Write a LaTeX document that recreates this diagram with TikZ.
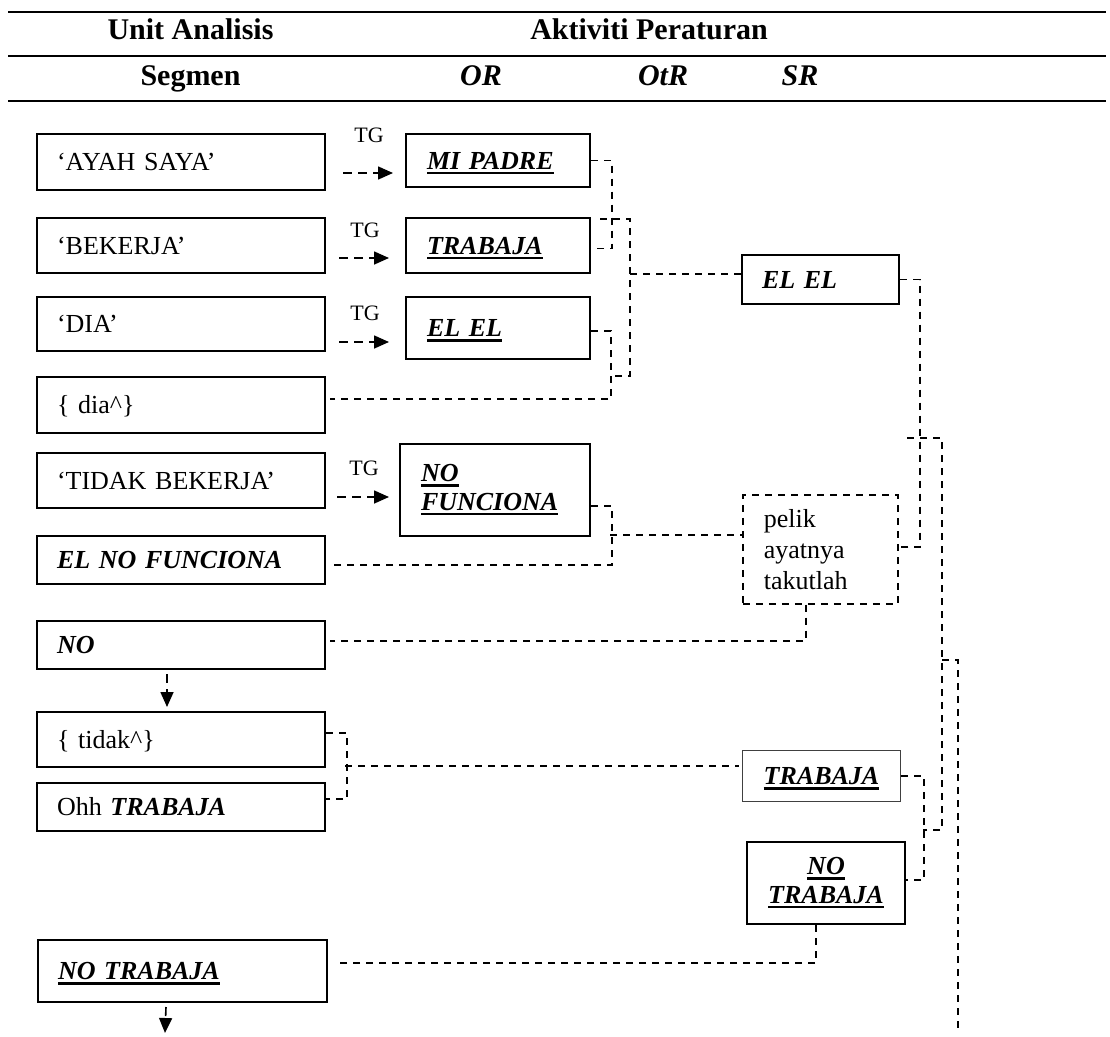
\documentclass[tikz,border=0pt]{standalone}
\usepackage{fontspec}
\setmainfont{Liberation Serif}
\usetikzlibrary{calc,arrows.meta}

\newcommand\bi[1]{\textbf{\textit{#1}}}
\newcommand\thickul[1]{\leavevmode\setbox0\hbox{#1}\rlap{\rule[-5pt]{\wd0}{2.4pt}}\box0}
\newcommand\bodysize{\fontsize{26}{31}\selectfont}
\newcommand\tightsize{\fontsize{26}{28.5}\selectfont}

\tikzset{
  box/.style={draw, line width=2pt, anchor=north west, inner xsep=20pt,
    inner ysep=0pt, align=left, font=\bodysize},
  oneline/.style={box, text height=17pt, text depth=0pt},
  link/.style={line width=1.6pt, dash pattern=on 7pt off 6pt},
  tgarrow/.style={line width=1.6pt, dash pattern=on 9pt off 6pt,
    -{Triangle[length=15pt,width=13pt]}},
  rulebar/.style={line width=2.7pt},
  headtext/.style={anchor=base, font=\fontsize{30}{36}\selectfont\bfseries},
  headital/.style={anchor=base, font=\fontsize{30}{36}\selectfont\bfseries\itshape},
  tglabel/.style={anchor=base, font=\fontsize{22}{26}\selectfont},
}

\begin{document}
\begin{tikzpicture}[x=1pt,y=-1pt]
\useasboundingbox (0,0) rectangle (1110,1036);

% table header
\draw[rulebar] (8,12) -- (1106,12);
\draw[rulebar] (8,56) -- (1106,56);
\draw[rulebar] (8,101) -- (1106,101);
\node[headtext] (h1) at (190.5,39) {Unit Analisis};
\node[headtext] (h2) at (649,39) {Aktiviti Peraturan};
\node[headtext] (h3) at (190.5,85) {Segmen};
\node[headital] (h4) at (481,85) {OR};
\node[headital] (h5) at (663,85) {OtR};
\node[headital] (h6) at (800,85) {SR};

% segment column
\node[oneline, text width=248pt, minimum height=56pt] (a1) at (36,133) {‘AYAH SAYA’};
\node[oneline, text width=248pt, minimum height=55pt] (a2) at (36,217) {‘BEKERJA’};
\node[oneline, text width=248pt, minimum height=54pt] (a3) at (36,296) {‘DIA’};
\node[oneline, text width=248pt, minimum height=56pt] (a4) at (36,376) {\{ dia\textasciicircum\}};
\node[oneline, text width=248pt, minimum height=55pt] (a5) at (36,452) {‘TIDAK BEKERJA’};
\node[oneline, text width=248pt, minimum height=48pt] (a6) at (36,535) {\bi{EL NO FUNCIONA}};
\node[oneline, text width=248pt, minimum height=48pt] (a7) at (36,620) {\bi{NO}};
\node[oneline, text width=248pt, minimum height=55pt] (a8) at (36,711) {\{ tidak\textasciicircum\}};
\node[oneline, text width=248pt, minimum height=48pt] (a9) at (36,782) {Ohh \bi{TRABAJA}};
\node[oneline, text width=249pt, minimum height=62pt] (a10) at (37,939) {\thickul{\bi{NO TRABAJA}}};

% OR column
\node[oneline, text width=142pt, inner xsep=21pt, minimum height=53pt] (b1) at (405,133) {\thickul{\bi{MI PADRE}}};
\node[oneline, text width=142pt, inner xsep=21pt, minimum height=55pt] (b2) at (405,217) {\thickul{\bi{TRABAJA}}};
\node[oneline, text width=142pt, inner xsep=21pt, minimum height=62pt] (b3) at (405,296) {\thickul{\bi{EL EL}}};
\node[box, text width=148pt, inner xsep=21pt, minimum height=92pt, font=\tightsize] (b4) at (399,443)
  {\thickul{\bi{NO}}\\\thickul{\bi{FUNCIONA}}};

% OtR column
\node[oneline, text width=117pt, minimum height=49pt] (c1) at (741,254) {\bi{EL EL}};
\node[box, line width=1.6pt, dash pattern=on 7pt off 6pt, text width=113pt, inner xsep=21pt,
  minimum height=109pt] (c2) at (742,494) {pelik\\ayatnya\\takutlah};

% SR column
\node[oneline, line width=1pt, draw=black!75, align=center, text width=118pt, minimum height=51pt]
  (d1) at (742,750) {\thickul{\bi{TRABAJA}}};
\node[box, align=center, text width=118pt, minimum height=82pt, font=\tightsize] (d2) at (746,841)
  {\thickul{\bi{NO}}\\\thickul{\bi{TRABAJA}}};

% TG translations
\node[tglabel] (t1) at (369,142) {TG};
\node[tglabel] (t2) at (365,237) {TG};
\node[tglabel] (t3) at (365,320) {TG};
\node[tglabel] (t5) at (364,475) {TG};
\draw[tgarrow] ($(a1.east)+(17,11)$) -- ($(b1.west)+(-12,12.5)$);
\draw[tgarrow] ($(a2.east)+(13,12.5)$) -- ($(b2.west)+(-16,12.5)$);
\draw[tgarrow] ($(a3.east)+(13,18)$) -- ($(b3.west)+(-16,14)$);
\draw[tgarrow] ($(a5.east)+(11,16.5)$) -- ($(b4.west)+(-10,7)$);

% downward flow in the segment column
\draw[tgarrow] ($(a7.south)+(-14,4)$) -- ($(a8.north)+(-14,-4)$);
\coordinate (nextseg) at (165,1033);
\draw[tgarrow] ($(a10.south)+(-16.5,4)$) -- (nextseg);

% groupings towards OtR
\draw[link] (b1.east) -- ++(21,0) |- ($(b2.east)+(0,3)$);
\draw[link] ($(b3.east)+(0,3)$) -- ++(20,0) |- ($(a4.east)+(4,-6)$);
\coordinate (k1) at (630,274);
\draw[link] ($(b2.north east)+(9,2)$) -- (630,219) -- (630,376) -- (609,376);
\draw[link] (k1) -- (k1 -| c1.west);

\draw[link] ($(b4.east)+(0,16)$) -- ++(21,0) |- ($(a6.east)+(4,5)$);
\coordinate (k2) at (610,535);
\draw[link] (k2) -- (k2 -| c2.west);
\draw[link] ($(c2.south)+(-14.5,0)$) |- ($(a7.east)+(4,-4)$);

% groupings towards SR
\draw[link] ($(a8.east)+(0,-6.5)$) -- ++(21,0) |- ($(a9.east)+(0,-8)$);
\coordinate (k4) at (345,766);
\draw[link] (k4) -- ($(k4 -| d1.west)+(-3,0)$);
\draw[link] ($(d2.south)+(-10,0)$) |- ($(a10.east)+(6,-8)$);

% right-hand brackets
\draw[link] (c1.east) -- ++(20,0) |- ($(c2.east)+(0,-2.5)$);
\draw[link] (d1.east) -- ++(23,0) |- ($(d2.east)+(0,-3)$);
\draw[link] (907,438) -- (942,438) -- (942,830) -- (923,830);
\coordinate (k5) at (942,660);
\coordinate (onward) at (958,1030);
\draw[link] (k5) -| (onward);
\end{tikzpicture}
\end{document}
